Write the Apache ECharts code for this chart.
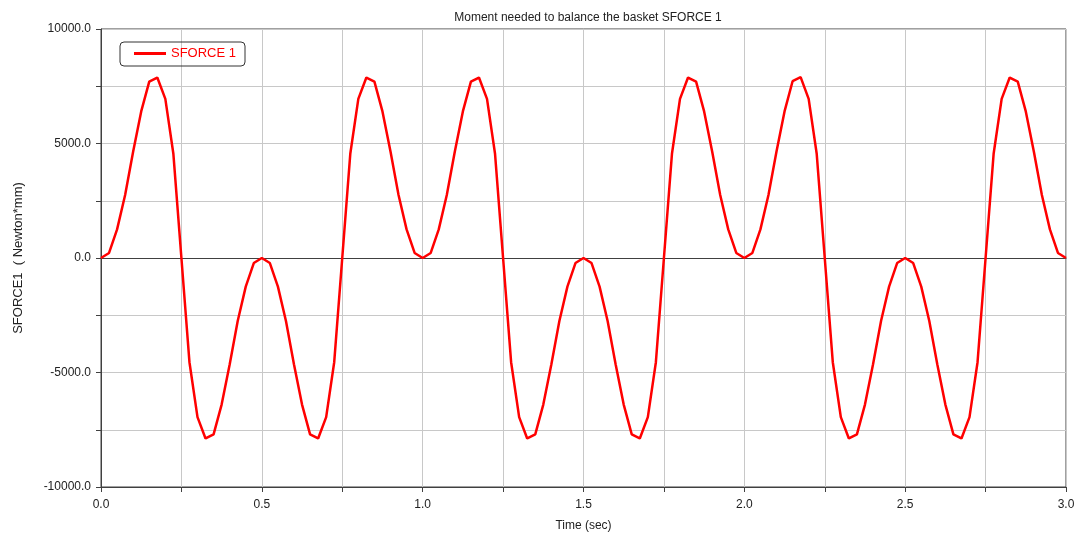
<!DOCTYPE html>
<html>
<head>
<meta charset="utf-8">
<title>Moment needed to balance the basket SFORCE 1</title>
<script src="https://cdn.jsdelivr.net/npm/echarts@6/dist/echarts.min.js"></script>
<style>
  html, body { margin: 0; padding: 0; background: #ffffff; }
  #chart { width: 1080px; height: 541px; }
</style>
</head>
<body>
<div id="chart"></div>
<script>
// Sample times (sec)
const timeSec = [
  0.000, 0.025, 0.050, 0.075, 0.100, 0.125, 0.150, 0.175, 0.200, 0.225,
  0.250, 0.275, 0.300, 0.325, 0.350, 0.375, 0.400, 0.425, 0.450, 0.475,
  0.500, 0.525, 0.550, 0.575, 0.600, 0.625, 0.650, 0.675, 0.700, 0.725,
  0.750, 0.775, 0.800, 0.825, 0.850, 0.875, 0.900, 0.925, 0.950, 0.975,
  1.000, 1.025, 1.050, 1.075, 1.100, 1.125, 1.150, 1.175, 1.200, 1.225,
  1.250, 1.275, 1.300, 1.325, 1.350, 1.375, 1.400, 1.425, 1.450, 1.475,
  1.500, 1.525, 1.550, 1.575, 1.600, 1.625, 1.650, 1.675, 1.700, 1.725,
  1.750, 1.775, 1.800, 1.825, 1.850, 1.875, 1.900, 1.925, 1.950, 1.975,
  2.000, 2.025, 2.050, 2.075, 2.100, 2.125, 2.150, 2.175, 2.200, 2.225,
  2.250, 2.275, 2.300, 2.325, 2.350, 2.375, 2.400, 2.425, 2.450, 2.475,
  2.500, 2.525, 2.550, 2.575, 2.600, 2.625, 2.650, 2.675, 2.700, 2.725,
  2.750, 2.775, 2.800, 2.825, 2.850, 2.875, 2.900, 2.925, 2.950, 2.975,
  3.000
];

// SFORCE 1 moment (Newton*mm)
const sforce1 = [
  0, 220, 1250, 2750, 4650, 6400, 7700, 7880, 6950, 4550,
  0, -4550, -6950, -7880, -7700, -6400, -4650, -2750, -1250, -220,
  0, -220, -1250, -2750, -4650, -6400, -7700, -7880, -6950, -4550,
  0, 4550, 6950, 7880, 7700, 6400, 4650, 2750, 1250, 220,
  0, 220, 1250, 2750, 4650, 6400, 7700, 7880, 6950, 4550,
  0, -4550, -6950, -7880, -7700, -6400, -4650, -2750, -1250, -220,
  0, -220, -1250, -2750, -4650, -6400, -7700, -7880, -6950, -4550,
  0, 4550, 6950, 7880, 7700, 6400, 4650, 2750, 1250, 220,
  0, 220, 1250, 2750, 4650, 6400, 7720, 7900, 6950, 4550,
  0, -4550, -6950, -7880, -7700, -6400, -4650, -2750, -1250, -220,
  0, -220, -1250, -2750, -4650, -6400, -7700, -7880, -6950, -4550,
  0, 4550, 6950, 7880, 7700, 6400, 4650, 2750, 1250, 220,
  0
];

const xTickValues = [0.0, 0.5, 1.0, 1.5, 2.0, 2.5, 3.0];
const yTickValues = [-10000, -5000, 0, 5000, 10000];

const FONT = '"Liberation Sans", Arial, sans-serif';
const AXIS_DARK = '#404040';
const GRID_GRAY = '#c8c8c8';

const points = timeSec.map((t, i) => [t, sforce1[i]]);

const chart = echarts.init(document.getElementById('chart'), null, { renderer: 'canvas' });

chart.setOption({
  animation: false,
  backgroundColor: '#ffffff',
  textStyle: { fontFamily: FONT },
  title: {
    text: 'Moment needed to balance the basket SFORCE 1',
    left: 583,
    textAlign: 'center',
    top: 7,
    textStyle: { fontFamily: FONT, fontSize: 12, fontWeight: 'normal', color: '#222222' }
  },
  legend: {
    left: 120,
    top: 42,
    orient: 'horizontal',
    icon: 'rect',
    itemWidth: 32,
    itemHeight: 3,
    padding: [5, 9, 6, 14],
    borderColor: '#333333',
    borderWidth: 1,
    borderRadius: 4,
    textStyle: { fontFamily: FONT, fontSize: 13, color: '#ff0000' },
    data: ['SFORCE 1']
  },
  grid: {
    left: 101,
    right: 14,
    top: 29,
    bottom: 54,
    show: true,
    borderColor: AXIS_DARK,
    borderWidth: 1,
    containLabel: false
  },
  xAxis: [
    {
      type: 'value',
      min: 0,
      max: 3,
      interval: 0.25,
      name: 'Time (sec)',
      nameLocation: 'middle',
      nameGap: 33,
      nameTextStyle: { fontFamily: FONT, fontSize: 12, color: '#222222' },
      axisLine: { show: true, onZero: false, lineStyle: { color: AXIS_DARK, width: 1 } },
      axisTick: { show: true, length: 5, lineStyle: { color: AXIS_DARK } },
      axisLabel: {
        margin: 12,
        fontFamily: FONT,
        fontSize: 12,
        color: '#222222',
        formatter: v => (xTickValues.some(x => Math.abs(x - v) < 1e-9) ? v.toFixed(1) : '')
      },
      splitLine: { show: true, lineStyle: { color: GRID_GRAY, width: 1 } }
    },
    {
      // zero reference line across the plot
      type: 'value',
      min: 0,
      max: 3,
      position: 'bottom',
      axisLine: { show: true, onZero: true, onZeroAxisIndex: 0, lineStyle: { color: AXIS_DARK, width: 1 } },
      axisTick: { show: false },
      axisLabel: { show: false },
      splitLine: { show: false }
    }
  ],
  yAxis: {
    type: 'value',
    min: -10000,
    max: 10000,
    interval: 2500,
    name: 'SFORCE1  ( Newton*mm)',
    nameLocation: 'middle',
    nameGap: 76,
    nameRotate: 90,
    nameTextStyle: { fontFamily: FONT, fontSize: 13, color: '#222222' },
    axisLine: { show: true, lineStyle: { color: AXIS_DARK, width: 1 } },
    axisTick: { show: true, length: 5, lineStyle: { color: AXIS_DARK } },
    axisLabel: {
      margin: 10,
      fontFamily: FONT,
      fontSize: 12,
      color: '#222222',
      formatter: v => (yTickValues.includes(v) ? v.toFixed(1) : '')
    },
    splitLine: { show: true, lineStyle: { color: GRID_GRAY, width: 1 } }
  },
  series: [
    {
      name: 'SFORCE 1',
      type: 'line',
      xAxisIndex: 0,
      data: points,
      showSymbol: false,
      symbol: 'none',
      smooth: false,
      lineStyle: { color: '#ff0000', width: 2.5 },
      itemStyle: { color: '#ff0000' },
      z: 5
    }
  ]
});
</script>
</body>
</html>
